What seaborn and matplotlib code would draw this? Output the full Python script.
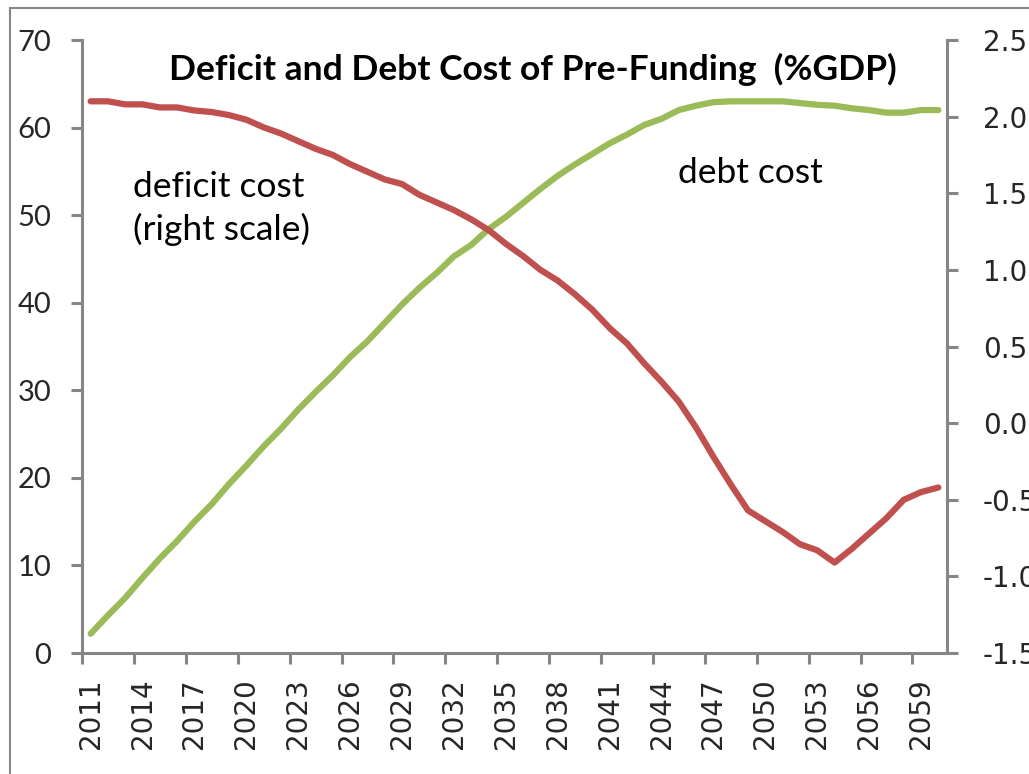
import numpy as np
import pandas as pd
import matplotlib
matplotlib.use("Agg")
import matplotlib.pyplot as plt
import matplotlib.patches as mpatches
from matplotlib.ticker import FixedLocator, FormatStrFormatter
import seaborn as sns

# ---- data ----
years = list(range(2011, 2061))
debt_cost = [2.2, 4.3, 6.3, 8.6, 10.8, 12.8, 15.0, 17.0, 19.3, 21.4,
             23.6, 25.6, 27.8, 29.8, 31.7, 33.8, 35.6, 37.7, 39.8, 41.7,
             43.4, 45.3, 46.6, 48.4, 49.8, 51.4, 53.0, 54.5, 55.8, 57.0,
             58.2, 59.2, 60.3, 61.0, 62.0, 62.5, 62.9, 63.0, 63.0, 63.0,
             63.0, 62.8, 62.6, 62.5, 62.2, 62.0, 61.7, 61.7, 62.0, 62.0]
deficit_cost = [2.10, 2.10, 2.08, 2.08, 2.06, 2.06, 2.04, 2.03, 2.01, 1.98,
                1.93, 1.89, 1.84, 1.79, 1.75, 1.69, 1.64, 1.59, 1.56, 1.49,
                1.44, 1.39, 1.33, 1.26, 1.17, 1.09, 1.00, 0.93, 0.84, 0.74,
                0.62, 0.52, 0.39, 0.27, 0.14, -0.03, -0.22, -0.40, -0.57, -0.64,
                -0.71, -0.79, -0.83, -0.91, -0.82, -0.72, -0.62, -0.50, -0.45, -0.42]
label_years = list(range(2011, 2061, 3))
left_ticks = [0, 10, 20, 30, 40, 50, 60, 70]
right_ticks = [-1.5, -1.0, -0.5, 0.0, 0.5, 1.0, 1.5, 2.0, 2.5]
title = "Deficit and Debt Cost of Pre-Funding  (%GDP)"

df = pd.DataFrame({"year": years, "debt": debt_cost, "deficit": deficit_cost})

sns.set_theme(style="white")
plt.rcParams["font.family"] = ["Lato", "DejaVu Sans"]

GREEN = "#9BBB59"
RED = "#C0504D"
GRAY = "#868686"

fig = plt.figure(figsize=(10.29, 7.74), dpi=100)
ax = fig.add_axes([82 / 1029, 1 - 653 / 774, (947 - 82) / 1029, (653 - 40) / 774])
ax2 = ax.twinx()

sns.lineplot(data=df, x="year", y="debt", ax=ax, color=GREEN, linewidth=4.5,
             solid_capstyle="round")
sns.lineplot(data=df, x="year", y="deficit", ax=ax2, color=RED, linewidth=4.5,
             solid_capstyle="round")

ax.set_xlim(years[0] - 0.5, years[-1] + 0.5)
ax.set_ylim(0, 70)
ax2.set_ylim(-1.5, 2.5)

# category-style x axis: tick marks at boundaries, labels at centers
ax.xaxis.set_major_locator(FixedLocator([y - 0.5 for y in label_years]))
ax.xaxis.set_minor_locator(FixedLocator(label_years))
ax.set_xticklabels([])
ax.set_xticklabels([str(y) for y in label_years], minor=True, rotation=90,
                   fontsize=20, family="DejaVu Sans")
ax.tick_params(axis="x", which="major", length=8, width=2.2, color=GRAY,
               direction="out", bottom=True)
ax.tick_params(axis="x", which="minor", length=0, pad=18, bottom=True)

ax.set_yticks(left_ticks)
ax.set_yticklabels([str(v) for v in left_ticks], fontsize=21)
ax.tick_params(axis="y", length=8, width=2.2, color=GRAY, direction="out",
               pad=14, left=True)

ax2.set_yticks(right_ticks)
ax2.yaxis.set_major_formatter(FormatStrFormatter("%.1f"))
ax2.tick_params(axis="y", length=8, width=2.2, color=GRAY, direction="out",
                pad=18, right=True, labelsize=20)
for lab in ax2.get_yticklabels():
    lab.set_family("DejaVu Sans")

for a in (ax, ax2):
    a.set_xlabel("")
    a.set_ylabel("")
    a.grid(False)
    a.spines["top"].set_visible(False)
ax.spines["right"].set_visible(False)
ax2.spines["left"].set_visible(False)
ax2.spines["bottom"].set_visible(False)
for s in ("left", "bottom"):
    ax.spines[s].set_color(GRAY)
    ax.spines[s].set_linewidth(2.2)
ax2.spines["right"].set_color(GRAY)
ax2.spines["right"].set_linewidth(2.2)

# title and annotations
fig.text(533 / 1029, 1 - 80 / 774, title, ha="center", va="baseline",
         fontsize=25.5, fontweight="bold", color="black")
ax.text(0.059, 0.744, "deficit cost", transform=ax.transAxes,
        fontsize=25.5, ha="left", va="baseline", color="black")
ax.text(0.059, 0.674, "(right scale)", transform=ax.transAxes,
        fontsize=25.5, ha="left", va="baseline", color="black")
ax.text(0.689, 0.767, "debt cost", transform=ax.transAxes,
        fontsize=25.5, ha="left", va="baseline", color="black")

# outer chart frame
fig.add_artist(mpatches.Rectangle((10 / 1029, -0.2), 1.5, 1.2 - 8 / 774,
                                  transform=fig.transFigure, fill=False,
                                  edgecolor=GRAY, linewidth=1.5))

fig.savefig("out.png", dpi=100)
